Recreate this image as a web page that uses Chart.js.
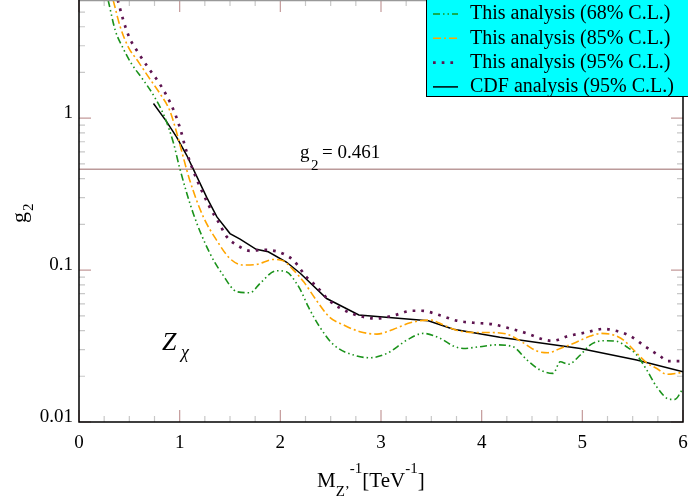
<!DOCTYPE html>
<html><head><meta charset="utf-8">
<script src="https://cdn.jsdelivr.net/npm/chart.js@4.4.1/dist/chart.umd.min.js"></script>
<style>html,body{margin:0;padding:0;background:#fff}#wrap{width:688px;height:503px}</style>
</head><body><div id="wrap"><canvas id="c" width="688" height="503"></canvas></div>
<script>
// ---- data (x = M_Z'^-1 [TeV^-1], y = g2) ----
const xTickValues = [0,1,2,3,4,5,6];
const yTickLabels = [0.01,0.1,1];
const g2Line = 0.461;
const labels = ['This analysis (68% C.L.)','This analysis (85% C.L.)','This analysis (95% C.L.)','CDF analysis (95% C.L.)'];

const cl68 = [[0.29,5.97],[0.36,3.79],[0.44,2.87],[0.52,2.29],[0.64,1.78],[0.75,1.38],[0.85,1.02],[0.94,0.68],[1.0,0.47],[1.135,0.236],[1.30,0.129],[1.42,0.095],[1.57,0.072],[1.70,0.071],[1.80,0.082],[1.96,0.099],[2.06,0.0975],[2.16,0.082],[2.20,0.074],[2.28,0.057],[2.39,0.0424],[2.53,0.0322],[2.76,0.0272],[2.89,0.0265],[3.06,0.0283],[3.26,0.0347],[3.42,0.0383],[3.59,0.0355],[3.72,0.0316],[3.82,0.0305],[3.98,0.0313],[4.15,0.0322],[4.31,0.0313],[4.45,0.0256],[4.58,0.022],[4.71,0.0209],[4.78,0.0249],[4.86,0.024],[4.98,0.0276],[5.08,0.0322],[5.21,0.0343],[5.34,0.034],[5.44,0.0313],[5.54,0.0276],[5.64,0.022],[5.74,0.017],[5.87,0.0141],[5.92,0.0141],[5.99,0.0162]];

const cl85 = [[0.34,5.97],[0.41,3.99],[0.49,2.94],[0.59,2.35],[0.69,1.87],[0.805,1.45],[0.90,1.13],[0.954,0.877],[1.0,0.68],[1.10,0.391],[1.235,0.224],[1.368,0.157],[1.50,0.119],[1.63,0.108],[1.765,0.109],[1.93,0.1175],[2.03,0.115],[2.13,0.1],[2.23,0.084],[2.36,0.063],[2.49,0.0489],[2.63,0.0435],[2.79,0.0393],[2.96,0.0379],[3.12,0.0407],[3.29,0.045],[3.49,0.0469],[3.62,0.0435],[3.75,0.0402],[3.95,0.0388],[4.08,0.0388],[4.25,0.0379],[4.41,0.0333],[4.55,0.0293],[4.66,0.0286],[4.78,0.0305],[4.91,0.0329],[5.08,0.0368],[5.19,0.0383],[5.31,0.0374],[5.41,0.0346],[5.51,0.0298],[5.64,0.0245],[5.74,0.0225],[5.84,0.0206],[5.95,0.021],[6.0,0.0213]];

const cl95 = [[0.385,6.0],[0.44,4.41],[0.50,3.40],[0.59,2.69],[0.69,2.14],[0.79,1.73],[0.88,1.37],[0.954,1.07],[1.01,0.834],[1.056,0.642],[1.12,0.478],[1.30,0.258],[1.384,0.208],[1.467,0.166],[1.60,0.142],[1.70,0.134],[1.83,0.136],[1.96,0.133],[2.05,0.126],[2.13,0.116],[2.26,0.090],[2.36,0.078],[2.48,0.0635],[2.63,0.0546],[2.79,0.0498],[2.96,0.048],[3.14,0.0506],[3.31,0.054],[3.40,0.054],[3.59,0.0503],[3.75,0.0465],[3.92,0.045],[4.10,0.0441],[4.28,0.0413],[4.45,0.0383],[4.61,0.035],[4.70,0.0342],[4.86,0.0368],[5.03,0.0388],[5.21,0.041],[5.30,0.0403],[5.47,0.037],[5.62,0.0316],[5.77,0.0272],[5.85,0.0252],[6.0,0.0252]];

const cdf = [[0.74,1.25],[0.87,0.95],[0.97,0.75],[1.07,0.57],[1.14,0.455],[1.27,0.30],[1.37,0.224],[1.5,0.174],[1.6,0.16],[1.76,0.137],[1.88,0.132],[2.06,0.113],[2.2,0.095],[2.46,0.065],[2.78,0.0506],[3.47,0.0464],[3.72,0.0408],[4.18,0.0361],[4.98,0.0305],[5.54,0.0256],[6.0,0.0214]];

const toPts = a => a.map(p => ({x:p[0], y:p[1]}));
const SERIF = '"Liberation Serif","DejaVu Serif",serif';

const decor = {
  id: 'decor',
  afterDatasetsDraw(chart) {
    const {ctx, chartArea: a, scales: {x, y}} = chart;
    ctx.save();
    // ticks (inside, on all four sides)
    ctx.lineWidth = 1.2;
    for (let i = 0; i <= 24; i++) {
      const v = i * 0.25, px = x.getPixelForValue(v);
      const major = i % 4 === 0, len = major ? 12 : 6;
      ctx.strokeStyle = major ? '#c49a9a' : '#c8c8c8';
      ctx.beginPath();
      ctx.moveTo(px, a.bottom); ctx.lineTo(px, a.bottom - len);
      ctx.moveTo(px, a.top); ctx.lineTo(px, a.top + len);
      ctx.stroke();
    }
    for (let d = -2; d <= 0; d++) {
      for (let m = 1; m <= 9; m++) {
        const v = m * Math.pow(10, d);
        if (v > 6) continue;
        const py = y.getPixelForValue(v);
        const major = m === 1, len = major ? 12 : 6;
        ctx.strokeStyle = major ? '#c49a9a' : '#c8c8c8';
        ctx.beginPath();
        ctx.moveTo(a.left, py); ctx.lineTo(a.left + len, py);
        ctx.moveTo(a.right, py); ctx.lineTo(a.right - len, py);
        ctx.stroke();
      }
    }
    // frame
    ctx.lineWidth = 1.5;
    ctx.strokeStyle = '#999';
    ctx.beginPath(); ctx.moveTo(a.left, a.top + 0.5); ctx.lineTo(a.right, a.top + 0.5); ctx.stroke();
    ctx.strokeStyle = '#000';
    ctx.beginPath();
    ctx.moveTo(a.left, a.top); ctx.lineTo(a.left, a.bottom); ctx.lineTo(a.right, a.bottom); ctx.lineTo(a.right, a.top);
    ctx.stroke();

    // legend
    const lx = 426, ly = 0, lw = 262, lh = 97;
    ctx.fillStyle = '#00ffff';
    ctx.fillRect(lx, ly, lw, lh);
    ctx.strokeStyle = '#000'; ctx.lineWidth = 1;
    ctx.strokeRect(lx + 0.5, ly - 1, lw + 2, lh + 0.5);
    ctx.font = '20px ' + SERIF;
    ctx.textBaseline = 'middle'; ctx.textAlign = 'left';
    chart.data.datasets.slice(0, 4).forEach((ds, i) => {
      const yy = 14 + i * 24.3;
      ctx.save();
      ctx.strokeStyle = ds.borderColor;
      ctx.lineWidth = ds.borderWidth;
      ctx.setLineDash(ds.borderDash || []);
      ctx.beginPath(); ctx.moveTo(433, yy); ctx.lineTo(458, yy); ctx.stroke();
      ctx.restore();
      ctx.fillStyle = '#000';
      ctx.fillText(ds.label, 470, yy);
    });

    // g2 = 0.461 label
    ctx.textBaseline = 'alphabetic';
    ctx.fillStyle = '#000';
    ctx.font = '19px ' + SERIF;
    ctx.fillText('g', 300, 158);
    ctx.font = '15px ' + SERIF;
    ctx.fillText('2', 311, 170);
    ctx.font = '19px ' + SERIF;
    ctx.fillText('= 0.461', 322, 158);

    // Z_chi
    ctx.font = 'italic 26px ' + SERIF;
    ctx.fillText('Z', 162, 350);
    ctx.font = 'italic 18px ' + SERIF;
    ctx.fillText('\u03C7', 181, 358);

    // x-axis title
    let cx = 317;
    ctx.font = '21px ' + SERIF; ctx.fillText('M', cx, 487); cx += ctx.measureText('M').width;
    ctx.font = '15px ' + SERIF; ctx.fillText('Z\u2019', cx, 496);
    const zw = ctx.measureText('Z\u2019').width;
    ctx.fillText('-1', cx + zw, 473); cx += zw + ctx.measureText('-1').width;
    ctx.font = '21px ' + SERIF; ctx.fillText('[TeV', cx, 487); cx += ctx.measureText('[TeV').width;
    ctx.font = '15px ' + SERIF; ctx.fillText('-1', cx, 473); cx += ctx.measureText('-1').width;
    ctx.font = '21px ' + SERIF; ctx.fillText(']', cx, 487);

    // y-axis title (rotated)
    ctx.save();
    ctx.translate(26, 223);
    ctx.rotate(-Math.PI / 2);
    ctx.font = '22px ' + SERIF; ctx.fillText('g', 0, 0);
    const gw = ctx.measureText('g').width;
    ctx.font = '15px ' + SERIF; ctx.fillText('2', gw + 1, 7);
    ctx.restore();

    ctx.restore();
  }
};

new Chart(document.getElementById('c'), {
  type: 'line',
  data: {
    datasets: [
      {label: labels[0], data: toPts(cl68), borderColor: '#1a921a', borderWidth: 1.6, borderDash: [7,3,1.5,3,1.5,3], cubicInterpolationMode: 'monotone', pointRadius: 0, fill: false},
      {label: labels[1], data: toPts(cl85), borderColor: '#ffa500', borderWidth: 1.6, borderDash: [8,3,2,3], cubicInterpolationMode: 'monotone', pointRadius: 0, fill: false},
      {label: labels[2], data: toPts(cl95), borderColor: '#5e1450', borderWidth: 2.7, borderDash: [2.7,6], cubicInterpolationMode: 'monotone', pointRadius: 0, fill: false},
      {label: labels[3], data: toPts(cdf), borderColor: '#000000', borderWidth: 1.5, tension: 0, pointRadius: 0, fill: false},
      {label: 'g2', data: [{x: 0, y: g2Line}, {x: 6, y: g2Line}], borderColor: '#bb9a9a', borderWidth: 1.5, pointRadius: 0, fill: false}
    ]
  },
  options: {
    responsive: false,
    animation: false,
    devicePixelRatio: 1,
    layout: {padding: {left: 0, right: 5, top: 0, bottom: 0}},
    plugins: {legend: {display: false}, tooltip: {enabled: false}},
    scales: {
      x: {
        type: 'linear', min: 0, max: 6,
        grid: {display: false, drawTicks: false},
        border: {display: false},
        afterBuildTicks: s => { s.ticks = xTickValues.map(v => ({value: v})); },
        afterFit: s => { s.height = 81; s.paddingLeft = 0; s.paddingRight = 0; },
        ticks: {color: '#000', font: {family: SERIF, size: 19}, padding: 10, maxRotation: 0, callback: v => String(v)}
      },
      y: {
        type: 'logarithmic', min: 0.01, max: 6,
        grid: {display: false, drawTicks: false},
        border: {display: false},
        afterBuildTicks: s => { s.ticks = yTickLabels.map(v => ({value: v})); },
        afterFit: s => { s.width = 79; s.paddingTop = 0; s.paddingBottom = 0; },
        ticks: {color: '#000', font: {family: SERIF, size: 19}, padding: 6, labelOffset: -5,
          callback: v => yTickLabels.includes(v) ? String(v) : ''}
      }
    }
  },
  plugins: [decor]
});
</script></body></html>
